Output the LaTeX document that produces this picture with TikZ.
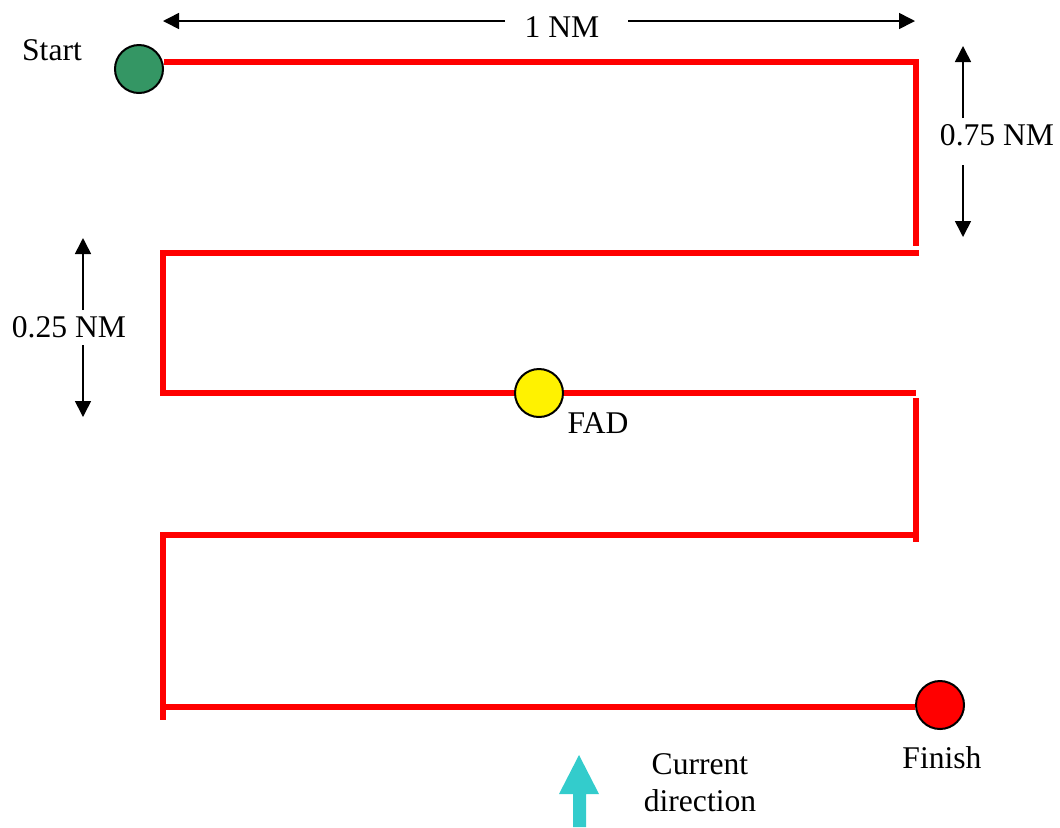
\documentclass[tikz,border=0pt]{standalone}
\usepackage{fontspec}
\setmainfont{Liberation Serif}
\usetikzlibrary{arrows.meta}
\definecolor{startgreen}{RGB}{52,150,100}
\definecolor{flowcyan}{RGB}{51,204,204}
\begin{document}
\begin{tikzpicture}[x=0.5pt,y=-0.5pt,
    leg/.style={draw=red,line width=3pt},
    dim/.style={draw=black,line width=0.8pt,-{Triangle[length=8pt,width=8pt]}},
    buoy/.style={circle,draw=black,line width=1pt,minimum size=24pt,inner sep=0pt},
    lbl/.style={font=\fontsize{15.8}{18.5}\selectfont,inner sep=0pt}]
    \useasboundingbox (0,0) rectangle (1060,827);

    % corners of the track
    \coordinate (c1) at (919,62);
    \coordinate (c2) at (916,59);
    \coordinate (c3) at (916,246);
    \coordinate (c4) at (919,253);
    \coordinate (c5) at (160,253);
    \coordinate (c6) at (163,250);
    \coordinate (c7) at (163,396);
    \coordinate (c8) at (160,393);
    \coordinate (c9) at (916,393);
    \coordinate (c10) at (916,398);
    \coordinate (c11) at (916,542);
    \coordinate (c12) at (919,535);
    \coordinate (c13) at (160,535);
    \coordinate (c14) at (163,532);
    \coordinate (c15) at (163,720);
    \coordinate (c16) at (160,707);

    \node[buoy,fill=startgreen] (start) at (139,69) {};
    \node[buoy,fill=red] (finish) at (940,705) {};

    \draw[leg] (start.east |- 0,62) -- (c1);
    \draw[leg] (c2) -- (c3);
    \draw[leg] (c4) -- (c5);
    \draw[leg] (c6) -- (c7);
    \draw[leg] (c8) -- (c9);
    \draw[leg] (c10) -- (c11);
    \draw[leg] (c12) -- (c13);
    \draw[leg] (c14) -- (c15);
    \draw[leg] (c16) -- (finish.west |- 0,707);

    \node[buoy,fill=yellow] (fad) at (539,393) {};

    \node[lbl] (startlbl) at (52,50) {Start};
    \node[lbl] (fadlbl) at (598,423) {FAD};
    \node[lbl] (finishlbl) at (942,758) {Finish};

    % dimensions
    \node[lbl] (onenm) at (562,27) {1 NM};
    \coordinate (w1) at (505,21);
    \coordinate (w2) at (163,21);
    \coordinate (e1) at (628,21);
    \coordinate (e2) at (915,21);
    \draw[dim] (w1) -- (w2);
    \draw[dim] (e1) -- (e2);

    \node[lbl] (longnm) at (997,135) {0.75 NM};
    \coordinate (l1) at (963,118);
    \coordinate (l2) at (963,46);
    \coordinate (l3) at (963,165);
    \coordinate (l4) at (963,237);
    \draw[dim] (l1) -- (l2);
    \draw[dim] (l3) -- (l4);

    \node[lbl] (shortnm) at (69,327) {0.25 NM};
    \coordinate (s1) at (83,310);
    \coordinate (s2) at (83,238);
    \coordinate (s3) at (83,345);
    \coordinate (s4) at (83,417);
    \draw[dim] (s1) -- (s2);
    \draw[dim] (s3) -- (s4);

    % current
    \fill[flowcyan] (573,827) -- (573,794) -- (559,794) -- (579,755)
        -- (599,794) -- (586,794) -- (586,827) -- cycle;
    \node[lbl,align=center] (current) at (700,783) {Current\\direction};
\end{tikzpicture}
\end{document}
